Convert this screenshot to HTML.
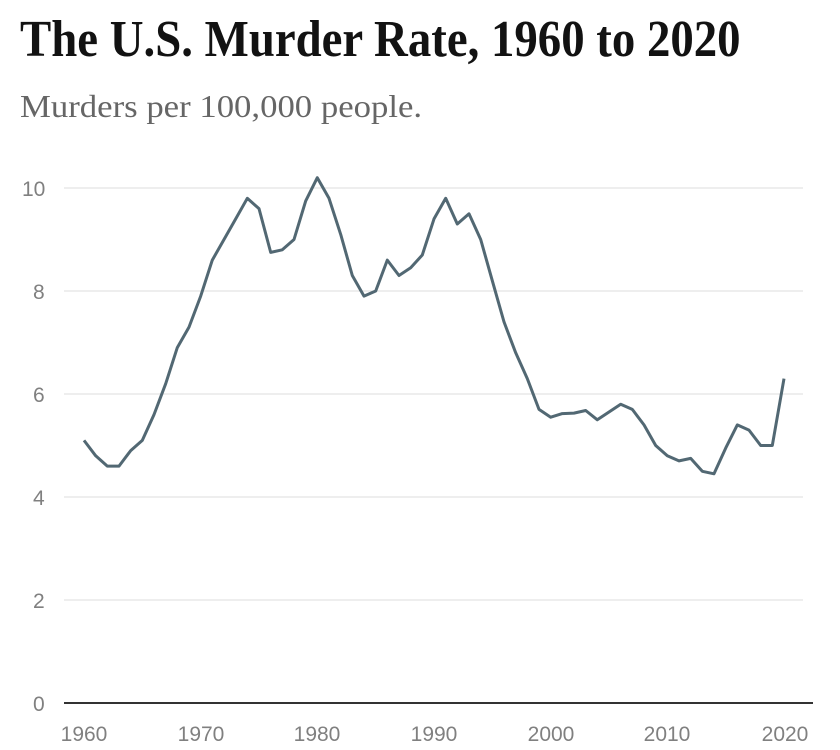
<!DOCTYPE html>
<html><head><meta charset="utf-8"><style>
body{margin:0;background:#fff;width:840px;height:750px;overflow:hidden}
h1{position:absolute;left:20px;top:10px;margin:0;font:bold 52px "Liberation Serif",serif;color:#121212;white-space:nowrap;transform:scaleX(0.9);transform-origin:left;line-height:normal}
.sub{position:absolute;left:20px;top:88px;font:32px "Liberation Serif",serif;color:#666;white-space:nowrap;line-height:normal;transform:scaleX(1.085);transform-origin:left}
svg{position:absolute;left:0;top:0}
text{font-family:"Liberation Sans",sans-serif;font-size:21px;fill:#808080}
</style></head><body>
<h1>The U.S. Murder Rate, 1960 to 2020</h1>
<div class="sub">Murders per 100,000 people.</div>
<svg width="840" height="750" id="s">
<g stroke="#ddd" stroke-width="1">
<line x1="64" x2="803" y1="188" y2="188"/><line x1="64" x2="803" y1="291" y2="291"/>
<line x1="64" x2="803" y1="394" y2="394"/><line x1="64" x2="803" y1="497" y2="497"/>
<line x1="64" x2="803" y1="600" y2="600"/></g>
<line x1="64" x2="813" y1="703" y2="703" stroke="#333" stroke-width="2"/>
<g text-anchor="start"><text x="22" y="196">10</text><text x="33" y="299">8</text><text x="33" y="402">6</text><text x="33" y="505">4</text><text x="33" y="608">2</text><text x="33" y="711">0</text></g>
<g text-anchor="middle"><text x="84" y="741">1960</text><text x="201" y="741">1970</text><text x="317" y="741">1980</text><text x="434" y="741">1990</text><text x="551" y="741">2000</text><text x="667" y="741">2010</text><text x="785" y="741">2020</text></g>
<path id="p" fill="none" stroke="#526873" stroke-width="3" stroke-linejoin="round"/>
</svg>
<script>
var d=[5.1,4.8,4.6,4.6,4.9,5.1,5.6,6.2,6.9,7.3,7.9,8.6,9.0,9.4,9.8,9.6,8.75,8.8,9.0,9.75,10.2,9.8,9.1,8.3,7.9,8.0,8.6,8.3,8.45,8.7,9.4,9.8,9.3,9.5,9.0,8.2,7.4,6.8,6.3,5.7,5.55,5.62,5.63,5.68,5.5,5.65,5.8,5.7,5.4,5.0,4.8,4.7,4.75,4.5,4.45,4.95,5.4,5.3,5.0,5.0,6.3];
var s="";for(var i=0;i<d.length;i++){s+=(i?"L":"M")+(84+i*700/60).toFixed(1)+","+(703-d[i]*51.5).toFixed(1);}
document.getElementById("p").setAttribute("d",s);
</script>
</body></html>
